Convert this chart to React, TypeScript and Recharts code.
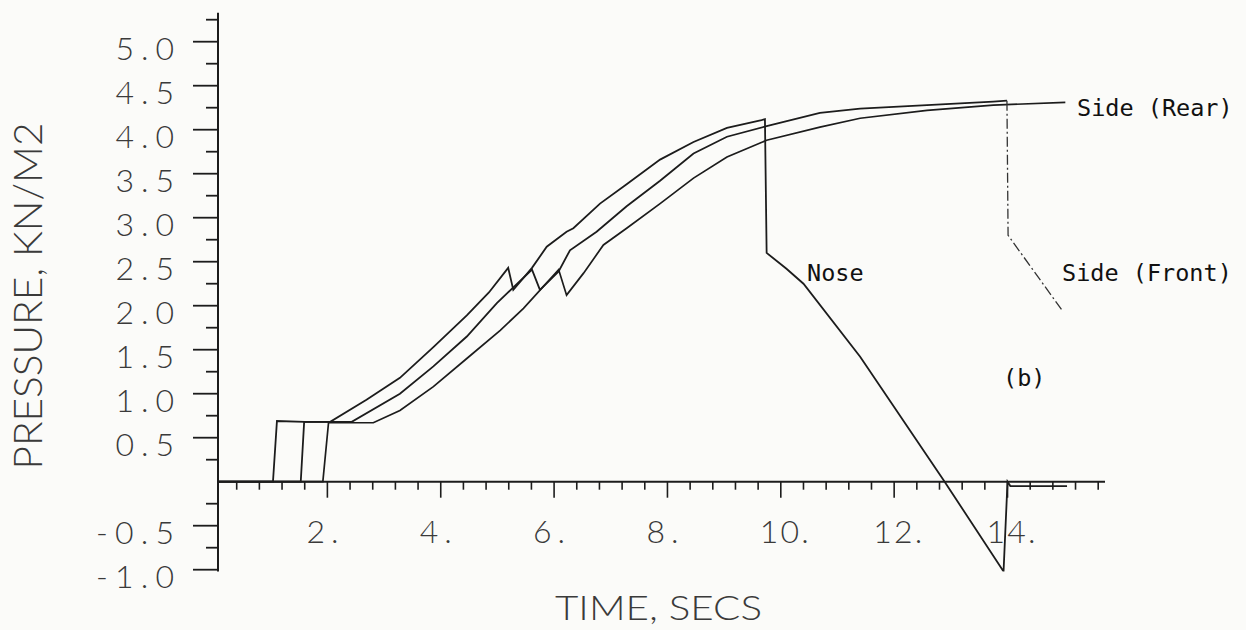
import React from 'react';
import { LineChart, Line, XAxis, YAxis, ReferenceLine } from 'recharts';

// ---- data (time in s, pressure in kN/m2) ----
const noseTime = [0.07, 1.04, 1.11, 1.6, 2.05, 2.69, 3.28, 3.87, 4.46, 4.85, 5.19, 5.28, 5.61, 5.87, 6.22, 6.34, 6.81, 7.28, 7.87, 8.46, 9.05, 9.66, 9.72, 9.75, 10.1, 10.4, 11.4, 12.87, 13.93, 14.0, 14.05, 15.05];
const nosePressure = [0, 0, 0.69, 0.68, 0.68, 0.93, 1.18, 1.53, 1.89, 2.15, 2.43, 2.18, 2.43, 2.67, 2.84, 2.88, 3.16, 3.38, 3.66, 3.86, 4.02, 4.11, 4.12, 2.6, 2.42, 2.25, 1.42, 0.02, -1.02, 0.0, -0.05, -0.05];

const frontTime = [0.07, 1.53, 1.59, 2.43, 3.28, 3.87, 4.46, 4.99, 5.61, 5.75, 6.08, 6.28, 6.75, 7.28, 7.87, 8.46, 9.05, 9.75, 10.69, 11.4, 12.58, 13.75, 13.99];
const frontPressure = [0, 0, 0.68, 0.68, 1.0, 1.31, 1.65, 2.03, 2.41, 2.18, 2.39, 2.63, 2.84, 3.13, 3.42, 3.73, 3.92, 4.04, 4.19, 4.24, 4.28, 4.32, 4.33];

const frontTailTime = [13.99, 14.01, 14.96];
const frontTailPressure = [4.33, 2.8, 1.95];

const rearTime = [0.07, 1.92, 2.02, 2.81, 3.28, 3.87, 4.46, 5.05, 5.46, 6.08, 6.22, 6.52, 6.87, 7.28, 7.87, 8.46, 9.05, 9.75, 10.69, 11.4, 12.58, 13.75, 15.02];
const rearPressure = [0, 0, 0.67, 0.67, 0.81, 1.08, 1.4, 1.72, 1.97, 2.41, 2.12, 2.37, 2.69, 2.88, 3.16, 3.45, 3.69, 3.88, 4.03, 4.13, 4.22, 4.28, 4.31];

const xMajorTicks = [2, 4, 6, 8, 10, 12, 14];
const xTickLabels = ['2.', '4.', '6.', '8.', '10.', '12.', '14.'];
const xMinorTicks = [0.07, 0.4, 0.8, 1.2, 1.6, 2.4, 2.8, 3.2, 3.6, 4.4, 4.8, 5.2, 5.6, 6.4, 6.8, 7.2, 7.6, 8.4, 8.8, 9.2, 9.6, 10.4, 10.8, 11.2, 11.6, 12.4, 12.8, 13.2, 13.6, 14.4, 14.8, 15.2, 15.6];

const yMajorTicks = [-1.0, -0.5, 0.5, 1.0, 1.5, 2.0, 2.5, 3.0, 3.5, 4.0, 4.5, 5.0];
const yTickLabels = ['-1.0', '-0.5', '0.5', '1.0', '1.5', '2.0', '2.5', '3.0', '3.5', '4.0', '4.5', '5.0'];
const yMinorTicks = [-0.75, -0.25, 0.25, 0.75, 1.25, 1.75, 2.25, 2.75, 3.25, 3.75, 4.25, 4.75, 5.25];

const seriesNames = ['Nose', 'Side (Front)', 'Side (Rear)'];

// ---- layout ----
const W = 1246;
const H = 630;
const X_DOMAIN: [number, number] = [0.07, 15.72];
const Y_DOMAIN: [number, number] = [-1.02, 5.33];
const MARGIN = { top: 12.66, right: 141, bottom: 0, left: 0 };
const Y_AXIS_W = 218;
const X_AXIS_H = 58.54;
const PLOT_H = H - MARGIN.top - MARGIN.bottom - X_AXIS_H;
const Y0_PX = MARGIN.top + (PLOT_H * (Y_DOMAIN[1] - 0)) / (Y_DOMAIN[1] - Y_DOMAIN[0]);
const AXIS_X = MARGIN.left + Y_AXIS_W;

const INK = '#1c1c1c';
const PLOT_FONT = 'Lato, "Open Sans", "DejaVu Sans", sans-serif';
const PLOT_WEIGHT = 300;
const PLOT_FILL = '#3a3a3a';
const TYPE_FONT = '"DejaVu Sans Mono", "Liberation Mono", monospace';

const zip = (t: number[], p: number[]) => t.map((v, i) => ({ t: v, p: p[i] }));
const noseData = zip(noseTime, nosePressure);
const frontData = zip(frontTime, frontPressure);
const frontTailData = zip(frontTailTime, frontTailPressure);
const rearData = zip(rearTime, rearPressure);

const XTick = (props: any) => {
  const { x, payload } = props;
  const v = payload.value;
  const mi = xMajorTicks.indexOf(v);
  const major = mi >= 0;
  const label = major ? xTickLabels[mi] : '';
  return (
    <g>
      <line x1={x} y1={Y0_PX} x2={x} y2={Y0_PX + (major ? 16 : 8)} stroke={INK} strokeWidth={1.6} />
      {major && (
        <text
          x={x - 21}
          y={Y0_PX + 61}
          fontFamily={PLOT_FONT}
          fontWeight={PLOT_WEIGHT}
          fontSize={32}
          fill={PLOT_FILL}
          textAnchor="start"
          textLength={17 * label.length - 2}
          lengthAdjust="spacing"
        >
          {label}
        </text>
      )}
    </g>
  );
};

const YTick = (props: any) => {
  const { y, payload } = props;
  const v = payload.value;
  const mi = yMajorTicks.indexOf(v);
  const major = mi >= 0;
  const label = major ? yTickLabels[mi] : '';
  return (
    <g>
      <line x1={AXIS_X - (major ? 25 : 12)} y1={y} x2={AXIS_X} y2={y} stroke={INK} strokeWidth={1.8} />
      {major && (
        <text
          x={174}
          y={y + 18}
          fontFamily={PLOT_FONT}
          fontWeight={PLOT_WEIGHT}
          fontSize={32}
          fill={PLOT_FILL}
          textAnchor="end"
          textLength={19.5 * label.length}
          lengthAdjust="spacing"
        >
          {label}
        </text>
      )}
    </g>
  );
};

export default function App() {
  const allXTicks = [...xMinorTicks, ...xMajorTicks].sort((a, b) => a - b);
  const allYTicks = [...yMinorTicks, ...yMajorTicks].sort((a, b) => a - b);
  return (
    <div style={{ position: 'absolute', left: 0, top: 0, width: W, height: H, background: '#fbfbf9' }}>
      <LineChart width={W} height={H} margin={MARGIN}>
        <XAxis
          type="number"
          dataKey="t"
          domain={X_DOMAIN}
          allowDataOverflow
          ticks={allXTicks}
          interval={0}
          axisLine={false}
          tickLine={false}
          height={X_AXIS_H}
          tick={<XTick />}
        />
        <YAxis
          type="number"
          dataKey="p"
          domain={Y_DOMAIN}
          allowDataOverflow
          ticks={allYTicks}
          interval={0}
          width={Y_AXIS_W}
          axisLine={{ stroke: INK, strokeWidth: 2 }}
          tickLine={false}
          tick={<YTick />}
        />
        <ReferenceLine y={0} stroke={INK} strokeWidth={2} ifOverflow="extendDomain" />
        <Line data={rearData} dataKey="p" name={seriesNames[2]} type="linear" stroke={INK} strokeWidth={1.7} dot={false} isAnimationActive={false} />
        <Line data={frontData} dataKey="p" name={seriesNames[1]} type="linear" stroke={INK} strokeWidth={1.8} dot={false} isAnimationActive={false} />
        <Line data={frontTailData} dataKey="p" name={seriesNames[1] + ' tail'} type="linear" stroke="#333" strokeWidth={1.3} strokeDasharray="10 3 2 3" dot={false} isAnimationActive={false} />
        <Line data={noseData} dataKey="p" name={seriesNames[0]} type="linear" stroke={INK} strokeWidth={1.8} dot={false} isAnimationActive={false} />
      </LineChart>
      <svg width={W} height={H} style={{ position: 'absolute', left: 0, top: 0, pointerEvents: 'none' }}>
        <text
          transform="translate(42,296) rotate(-90)"
          textAnchor="middle"
          fontFamily={PLOT_FONT}
          fontWeight={PLOT_WEIGHT}
          fontSize={40}
          fill={PLOT_FILL}
          textLength={347}
          lengthAdjust="spacingAndGlyphs"
        >
          PRESSURE, KN/M2
        </text>
        <text
          x={555}
          y={620}
          fontFamily={PLOT_FONT}
          fontWeight={PLOT_WEIGHT}
          fontSize={34}
          fill={PLOT_FILL}
          textLength={207}
          lengthAdjust="spacingAndGlyphs"
        >
          TIME, SECS
        </text>
        <text x={1077} y={116} fontFamily={TYPE_FONT} fontSize={23.5} fill="#111">{seriesNames[2]}</text>
        <text x={1062} y={281} fontFamily={TYPE_FONT} fontSize={23.5} fill="#111">{seriesNames[1]}</text>
        <text x={807} y={281} fontFamily={TYPE_FONT} fontSize={23.5} fill="#111">{seriesNames[0]}</text>
        <text x={1003} y={386} fontFamily={TYPE_FONT} fontSize={23.5} fill="#111">(b)</text>
      </svg>
    </div>
  );
}
